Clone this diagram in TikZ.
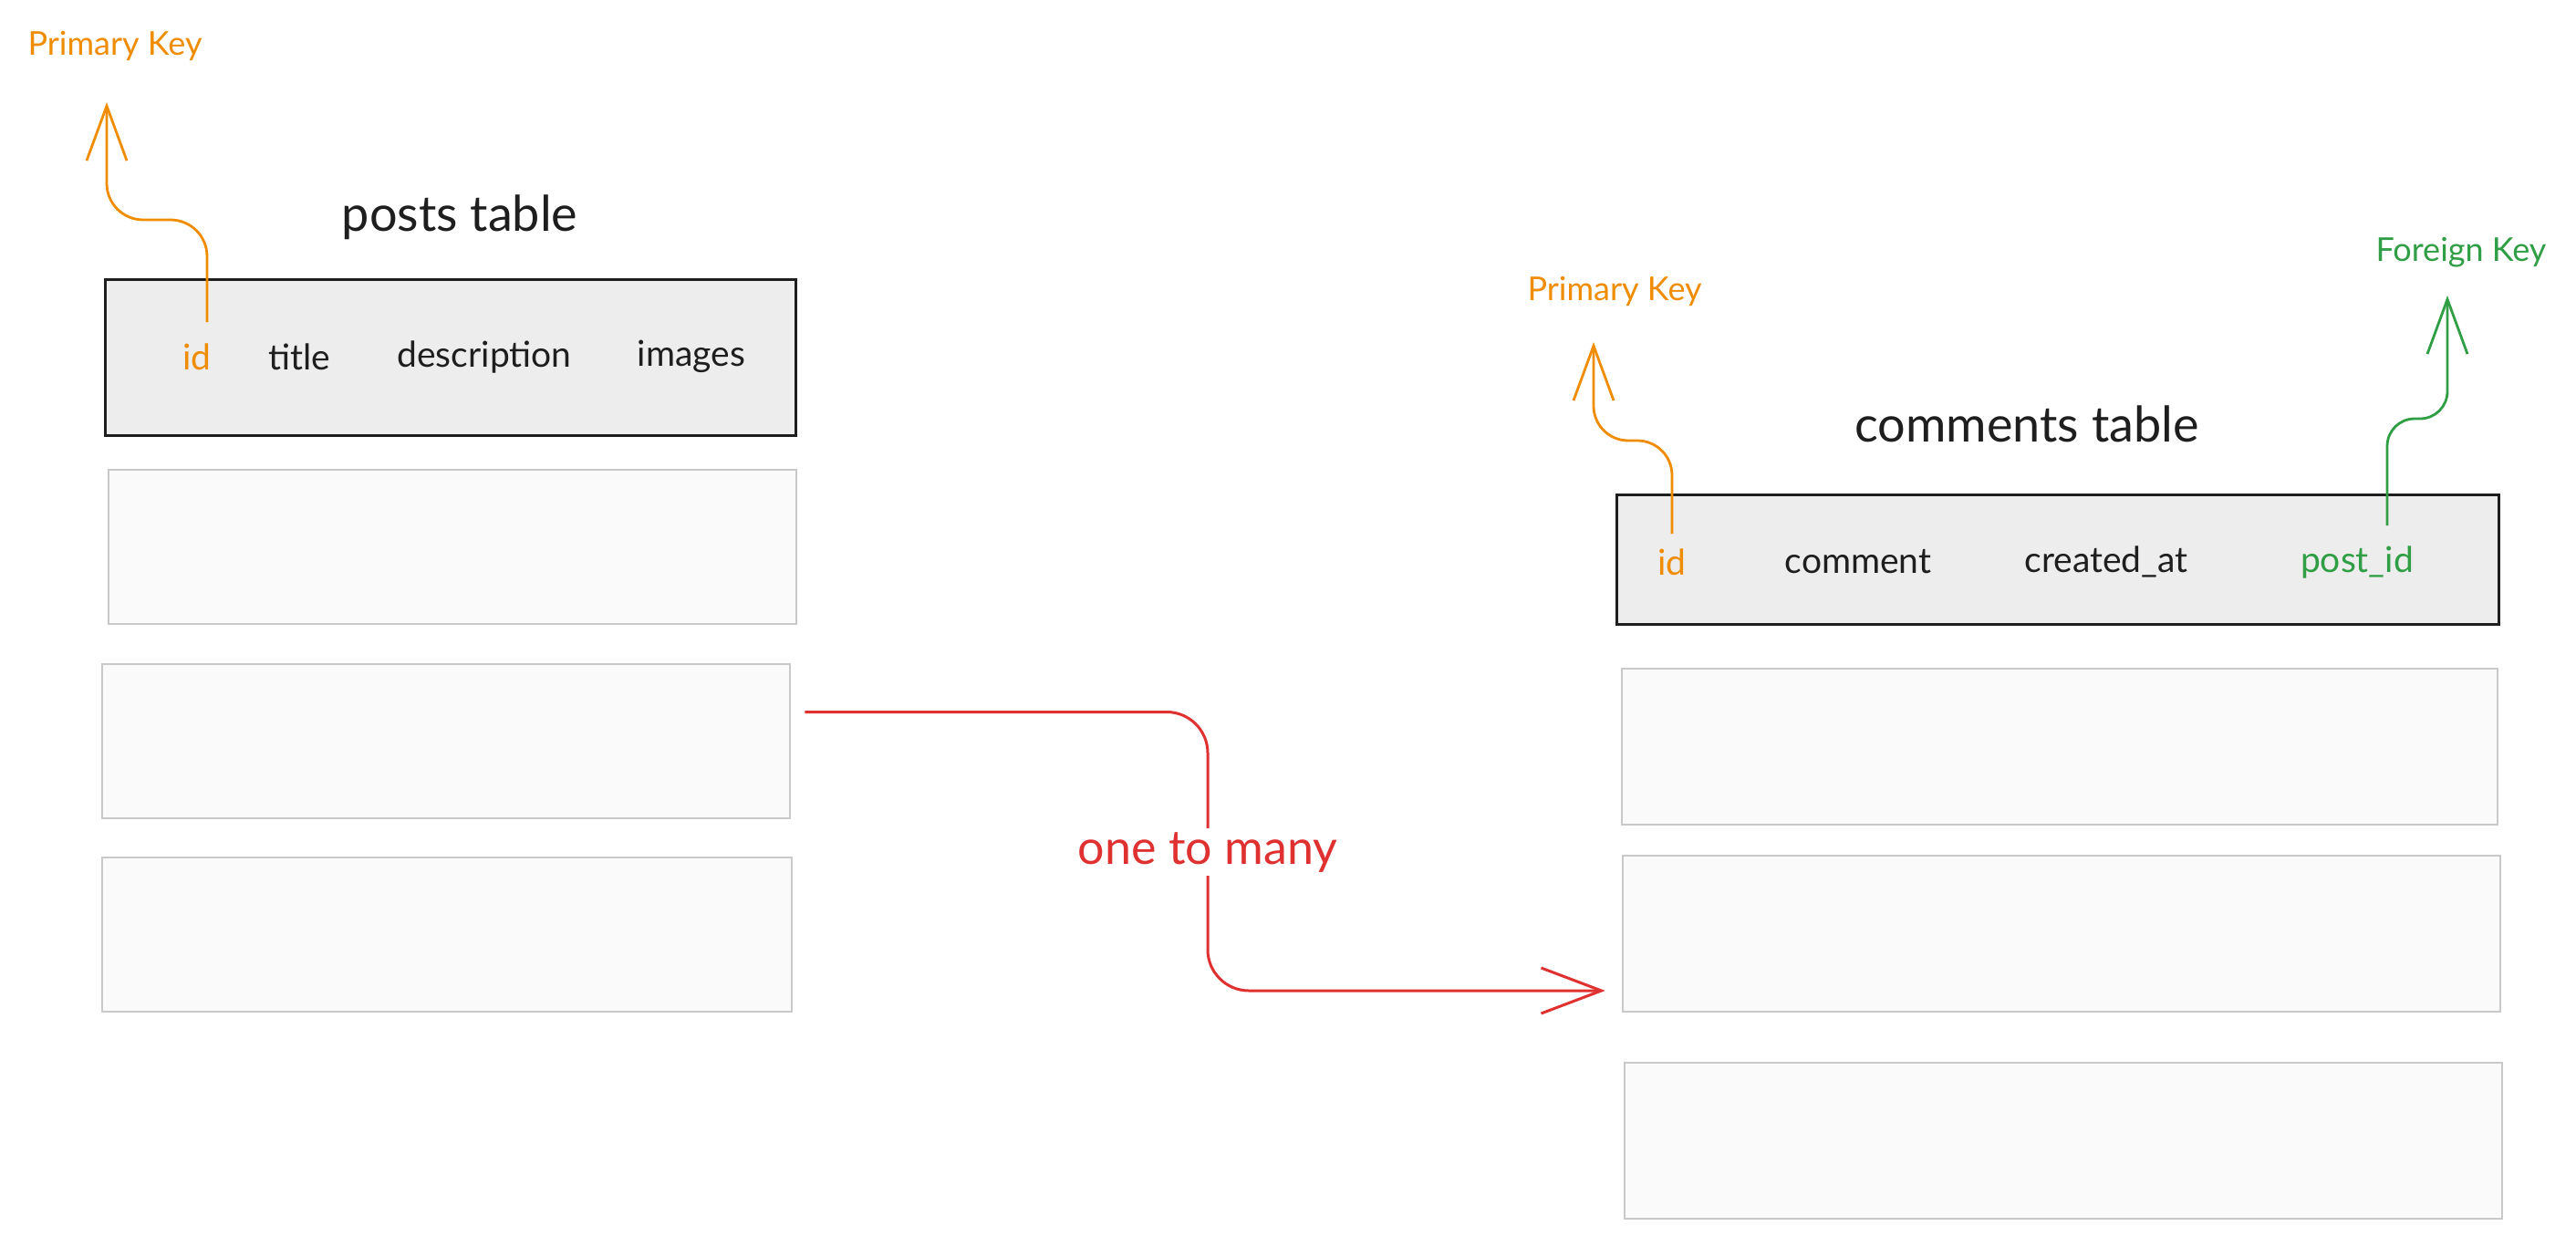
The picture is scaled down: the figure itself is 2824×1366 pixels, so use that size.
\documentclass[tikz,border=0pt]{standalone}
\usepackage{fontspec}
\setmainfont{Lato}
\usetikzlibrary{arrows.meta,calc}
\definecolor{pkorange}{HTML}{F08C00}
\definecolor{fkgreen}{HTML}{2F9E44}
\definecolor{relred}{HTML}{E03131}
\definecolor{hdrfill}{HTML}{EDEDED}
\definecolor{rowfill}{HTML}{FAFAFA}
\definecolor{rowline}{HTML}{C9C9C9}
\definecolor{ink}{HTML}{1E1E1E}
\tikzset{
  hdrbox/.style={draw=ink, line width=3pt, fill=hdrfill, rectangle, inner sep=0pt},
  rowbox/.style={draw=rowline, line width=2.5pt, fill=rowfill, rectangle, inner sep=0pt},
  coltext/.style={font=\fontsize{39}{46}\selectfont, text=ink, inner sep=2pt},
  tabtitle/.style={font=\fontsize{54}{62}\selectfont, text=ink},
  keylabel/.style={font=\fontsize{36}{42}\selectfont},
  keyarrow/.style={line width=2.8pt, -{Straight Barb[length=60pt,width=44pt,line width=2.8pt]}},
  relarrow/.style={draw=relred, line width=3pt, rounded corners=45pt, -{Straight Barb[length=66pt,width=50pt,line width=3pt]}}
}
\begin{document}
\begin{tikzpicture}[x=1pt,y=-1pt]
\useasboundingbox[fill=white] (0,0) rectangle (2824,1366);

% ---------- posts table ----------
\node[tabtitle] (ptitle) at (504,238) {posts table};
\node[hdrbox, minimum width=757pt, minimum height=171pt] (phdr) at (493.5,391.5) {};
\node[coltext, text=pkorange] (pid) at (216,391) {id};
\node[coltext] (ptitlecol) at (328,391) {title};
\node[coltext] (pdesc) at (531,391) {description};
\node[coltext] (pimg) at (758,391) {images};
\node[rowbox, minimum width=754pt, minimum height=169pt] (prow1) at (496,599.5) {};
\node[rowbox, minimum width=754pt, minimum height=169pt] (prow2) at (489,812.5) {};
\node[rowbox, minimum width=756pt, minimum height=169pt] (prow3) at (490,1024.5) {};

\node[keylabel, text=pkorange] (pk1) at (126,50) {Primary Key};
\coordinate (pk1tip) at (117,112);
\coordinate (pk1start) at ($(pid.north)+(11,0)$);
\draw[keyarrow, draw=pkorange, rounded corners=40pt] (pk1start |- 0,353) -- (pk1start |- 0,241) -| (pk1tip);

% ---------- comments table ----------
\node[tabtitle] (ctitle) at (2222,465) {comments table};
\node[hdrbox, minimum width=967pt, minimum height=142pt] (chdr) at (2255.5,613) {};
\node[coltext, text=pkorange] (cid) at (1833,616) {id};
\node[coltext] (ccomment) at (2037,616) {comment};
\node[coltext] (ccreated) at (2309,616) {created\_at};
\node[coltext, text=fkgreen] (cpost) at (2584,616) {post\_id};
\node[rowbox, minimum width=960pt, minimum height=171pt] (crow1) at (2258,818.5) {};
\node[rowbox, minimum width=962pt, minimum height=171pt] (crow2) at (2260,1023.5) {};
\node[rowbox, minimum width=962pt, minimum height=171pt] (crow3) at (2262,1250.5) {};

\node[keylabel, text=pkorange] (pk2) at (1770,319) {Primary Key};
\coordinate (pk2tip) at (1747,375);
\draw[keyarrow, draw=pkorange, rounded corners=38pt] (cid.north |- 0,585) -- (cid.north |- 0,483) -| (pk2tip);

\node[keylabel, text=fkgreen] (fk) at (2698,277) {Foreign Key};
\coordinate (fktip) at (2683,324);
\coordinate (fkstart) at ($(cpost.north)+(33,0)$);
\draw[keyarrow, draw=fkgreen, rounded corners=30pt] (fkstart |- 0,576) -- (fkstart |- 0,459) -| (fktip);

% ---------- relation ----------
\draw[relarrow] ([xshift=15pt,yshift=32pt]prow2.east) -| (1324,1086) -- ([xshift=-18pt,yshift=-62.5pt]crow2.west);
\node[fill=white, text=relred, font=\fontsize{52}{60}\selectfont, inner sep=4pt] (rel) at (1324,934) {one to many};
\end{tikzpicture}
\end{document}
